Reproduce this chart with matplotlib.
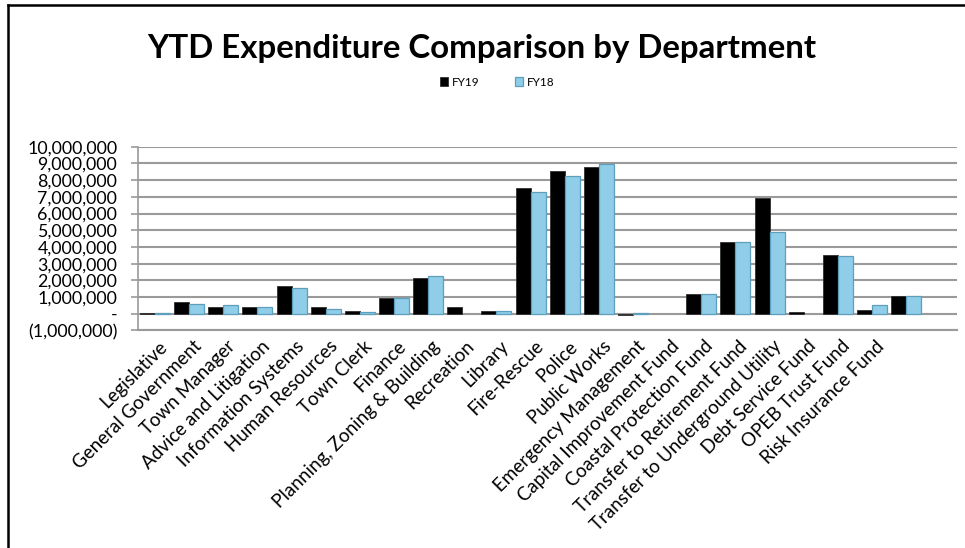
import matplotlib
matplotlib.use("Agg")
import matplotlib.pyplot as plt
from matplotlib.ticker import FuncFormatter, MultipleLocator
from matplotlib.lines import Line2D
import numpy as np

departments = [
    "Legislative", "General Government", "Town Manager", "Advice and Litigation",
    "Information Systems", "Human Resources", "Town Clerk", "Finance",
    "Planning, Zoning & Building", "Recreation", "Library", "Fire-Rescue",
    "Police", "Public Works", "Emergency Management", "Capital Improvement Fund",
    "Coastal Protection Fund", "Transfer to Retirement Fund",
    "Transfer to Underground Utility", "Debt Service Fund", "OPEB Trust Fund",
    "Risk Insurance Fund", "", "",
]
fy19 = [70000, 680000, 420000, 420000, 1690000, 420000, 140000, 950000,
        2130000, 420000, 140000, 7550000, 8550000, 8800000, -80000, 0,
        1210000, 4300000, 6950000, 80000, 3500000, 220000, 1050000, 0]
fy18 = [30000, 560000, 500000, 400000, 1570000, 280000, 120000, 920000,
        2250000, 0, 150000, 7280000, 8220000, 8980000, 30000, 0,
        1200000, 4270000, 4900000, 0, 3480000, 500000, 1050000, 0]
series_names = ["FY19", "FY18"]

plt.rcParams['font.family'] = ['Lato', 'DejaVu Sans']

fig = plt.figure(figsize=(9.65, 5.48), dpi=100)
ax = fig.add_axes([0.143, 0.3969, 0.849, 0.3354])

x = np.arange(len(departments))
w = 0.44
lw19 = [0.6 if v != 0 else 0 for v in fy19]
lw18 = [0.9 if v != 0 else 0 for v in fy18]
b1 = ax.bar(x - w / 2, fy19, width=w, color="black", edgecolor="#303030",
            linewidth=lw19, zorder=3, label=series_names[0])
b2 = ax.bar(x + w / 2, fy18, width=w, color="#8FCDE8", edgecolor="#5E9FBD",
            linewidth=lw18, zorder=3, label=series_names[1])

ax.set_xlim(-0.5, len(departments) - 0.5)
ax.set_ylim(-1000000, 10000000)
ax.yaxis.set_major_locator(MultipleLocator(1000000))


def fmt(v, pos):
    if abs(v) < 1:
        return "-"
    if v < 0:
        return "({:,.0f})".format(-v)
    return "{:,.0f}".format(v)


ax.yaxis.set_major_formatter(FuncFormatter(fmt))
ax.grid(axis="y", color="#9A9A9A", linewidth=1.5, zorder=0)
ax.set_axisbelow(True)
for s in ["top", "right"]:
    ax.spines[s].set_visible(False)
ax.spines["left"].set_color("#9A9A9A")
ax.spines["left"].set_linewidth(1.2)
ax.spines["bottom"].set_color("#9A9A9A")
ax.spines["bottom"].set_linewidth(1.5)
ax.tick_params(axis="y", colors="#9A9A9A", length=5, width=1.2, labelsize=12.8,
               labelcolor="black", pad=10)
ax.tick_params(axis="x", length=0, pad=5)
ax.set_xticks(x + 0.1)
ax.set_xticklabels(departments, rotation=45, ha="right", rotation_mode="anchor",
                   fontsize=13.5)

fig.text(0.499, 0.912, "YTD Expenditure Comparison by Department",
         ha="center", va="center", fontsize=23.8, fontweight="bold")

leg = fig.legend(handles=[b1, b2], labels=series_names, loc="center",
                 bbox_to_anchor=(0.515, 0.85), ncol=2, frameon=False,
                 fontsize=8.5, handlelength=0.7, handleheight=0.7,
                 columnspacing=3.0, handletextpad=0.3)

# border lines (left and top)
fig.add_artist(Line2D([0.0078, 0.0078], [0.0, 0.991], transform=fig.transFigure,
                      color="black", linewidth=1.8))
fig.add_artist(Line2D([0.0078, 1.0], [0.991, 0.991], transform=fig.transFigure,
                      color="black", linewidth=1.8))

fig.savefig("out.png", dpi=100)
